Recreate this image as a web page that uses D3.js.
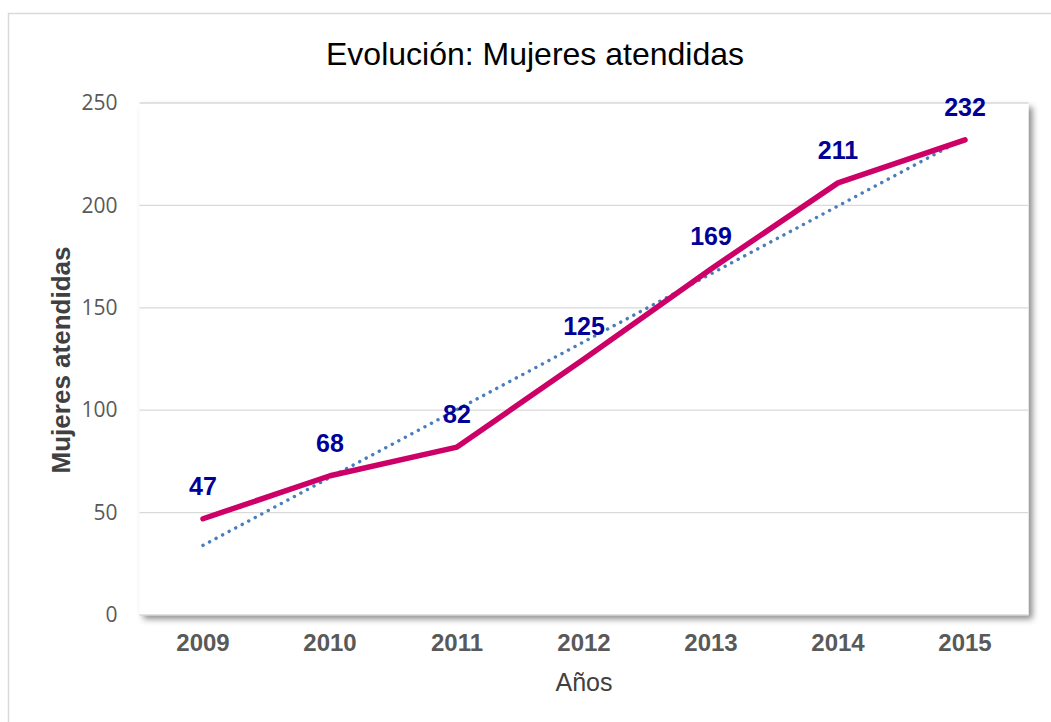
<!DOCTYPE html>
<html><head><meta charset="utf-8">
<script src="https://cdn.jsdelivr.net/npm/d3@7"></script>
<style>body{margin:0;background:#fff}</style>
</head><body>
<svg id="c" width="1051" height="722"></svg>
<script>
const years = ["2009","2010","2011","2012","2013","2014","2015"];
const mujeres = [47,68,82,125,169,211,232];
const yTicks = [0,50,100,150,200,250];
const titleText = "Evolución: Mujeres atendidas";
const xTitle = "Años";
const yTitle = "Mujeres atendidas";

const svg = d3.select("#c");
const defs = svg.append("defs");
const f = defs.append("filter").attr("id","sh").attr("x","-5%").attr("y","-5%").attr("width","115%").attr("height","115%");
f.append("feDropShadow").attr("dx",4).attr("dy",4).attr("stdDeviation",3).attr("flood-color","#000").attr("flood-opacity",0.45);

svg.append("rect").attr("x",8.5).attr("y",13.5).attr("width",1100).attr("height",800)
  .attr("fill","#fff").attr("stroke","#d9d9d9").attr("stroke-width",1.5);

const L=139.5, R=1028.5, T=103, B=615;
const x = d3.scaleBand().domain(years).range([L,R]);
const y = d3.scaleLinear().domain([0,250]).range([B,T]);

svg.append("rect").attr("x",L).attr("y",T).attr("width",R-L).attr("height",B-T)
  .attr("fill","#fff").attr("filter","url(#sh)");

svg.append("g").selectAll("line").data(yTicks).join("line")
  .attr("x1",L).attr("x2",R).attr("y1",d=>y(d)).attr("y2",d=>y(d))
  .attr("stroke","#d9d9d9").attr("stroke-width",1.3);

const yAxis = svg.append("g").attr("transform",`translate(${L},0)`)
  .call(d3.axisLeft(y).tickValues(yTicks).tickSize(0).tickPadding(22));
yAxis.select(".domain").remove();
yAxis.selectAll("text").attr("font-family","Open Sans, sans-serif").attr("font-size",21).attr("fill","#595959");

const xAxis = svg.append("g").attr("transform",`translate(0,${B})`)
  .call(d3.axisBottom(x).tickSize(0).tickPadding(19));
xAxis.select(".domain").remove();
xAxis.selectAll("text").attr("font-family","Liberation Sans, Arial, sans-serif").attr("font-weight","bold").attr("font-size",24).attr("fill","#595959");

// trendline (least squares)
const n = mujeres.length, xs = d3.range(n);
const mx = d3.mean(xs), my = d3.mean(mujeres);
const slope = d3.sum(xs,(i)=> (i-mx)*(mujeres[i]-my)) / d3.sum(xs,i=>(i-mx)*(i-mx));
const icpt = my - slope*mx;
const cx = i => x(years[i]) + x.bandwidth()/2;
svg.append("line")
  .attr("x1",cx(0)).attr("y1",y(icpt)).attr("x2",cx(n-1)).attr("y2",y(icpt+slope*(n-1)))
  .attr("stroke","#4a7ebb").attr("stroke-width",3.4).attr("stroke-dasharray","0.1 7.3").attr("stroke-linecap","round");

const line = d3.line().x((d,i)=>cx(i)).y(d=>y(d));
svg.append("path").datum(mujeres).attr("d",line).attr("fill","none")
  .attr("stroke","#cc0066").attr("stroke-width",5.5).attr("stroke-linecap","round").attr("stroke-linejoin","round");

svg.append("g").selectAll("text").data(mujeres).join("text")
  .attr("x",(d,i)=>cx(i)).attr("y",d=>y(d)-24).attr("text-anchor","middle")
  .attr("font-family","Liberation Sans, Arial, sans-serif").attr("font-weight","bold").attr("font-size",25)
  .attr("fill","#000099").text(d=>d);

svg.append("text").attr("x",535).attr("y",65).attr("text-anchor","middle")
  .attr("font-family","Liberation Sans, Arial, sans-serif").attr("font-size",32).attr("fill","#000").text(titleText);
svg.append("text").attr("x",584).attr("y",691).attr("text-anchor","middle")
  .attr("font-family","Liberation Sans, Arial, sans-serif").attr("font-size",25).attr("fill","#404040").text(xTitle);
svg.append("text").attr("transform","translate(70,360) rotate(-90)").attr("text-anchor","middle")
  .attr("font-family","Liberation Sans, Arial, sans-serif").attr("font-weight","bold").attr("font-size",26).attr("fill","#404040").text(yTitle);
</script>
</body></html>
